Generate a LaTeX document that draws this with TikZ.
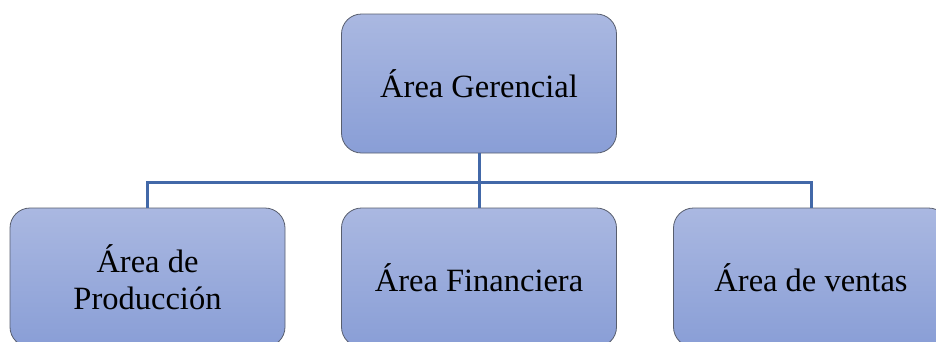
\documentclass[tikz,border=0pt]{standalone}
\usepackage{fontspec}
\setmainfont{Liberation Serif}
\definecolor{boxtop}{RGB}{170,184,225}
\definecolor{boxbot}{RGB}{137,158,214}
\definecolor{boxedge}{RGB}{88,94,110}
\definecolor{linkblue}{RGB}{66,104,168}
\tikzset{
  unitbox/.style={draw=boxedge, line width=0.8pt, rounded corners=20pt,
    top color=boxtop, bottom color=boxbot,
    minimum width=275pt, minimum height=139pt, inner sep=0pt,
    align=center, font=\fontsize{32.5}{37}\selectfont},
  link/.style={draw=linkblue, line width=3pt}
}
\begin{document}
\begin{tikzpicture}[x=1pt, y=-1pt]
  \useasboundingbox (0,0) rectangle (936,341);
  \clip (0,0) rectangle (936,341);
  % organisation boxes
  \node[unitbox] (ger) at (479,83.5) {Área Gerencial};
  \node[unitbox] (prod) at (147.5,277.5) {Área de\\Producción};
  \node[unitbox] (fin) at (479,277.5) {Área Financiera};
  \node[unitbox] (ven) at (811,277.5) {Área de ventas};
  % bus line joining the levels
  \coordinate (bus) at (479,182);
  \draw[link] (ger.south) -- (fin.north);
  \draw[link] (prod.north) |- (bus) -| (ven.north);
\end{tikzpicture}
\end{document}
